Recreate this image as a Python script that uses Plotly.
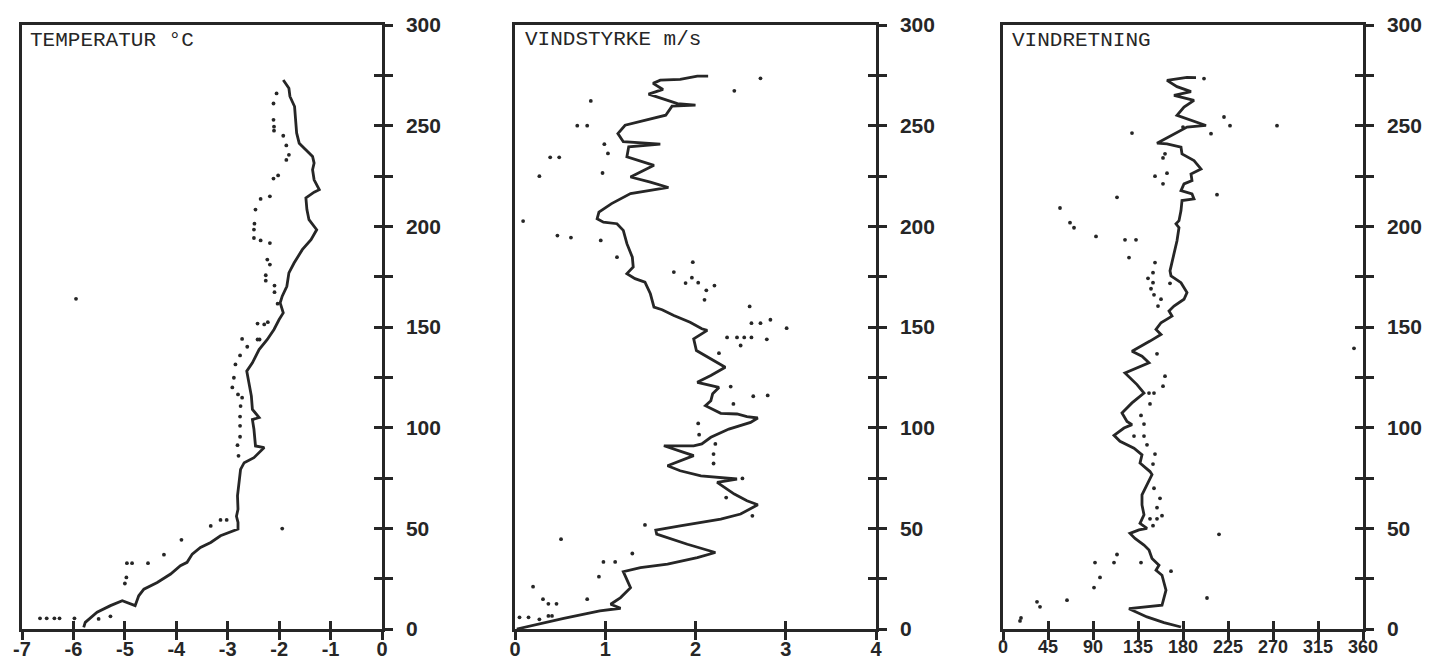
import plotly.graph_objects as go

# ---------------- DATA ----------------
height_ticks = [0, 25, 50, 75, 100, 125, 150, 175, 200, 225, 250, 275, 300]
height_ticktext = ["0", "", "50", "", "100", "", "150", "", "200", "", "250", "", "300"]

temp_ticks = [-7, -6, -5, -4, -3, -2, -1, 0]
temp_ticktext = ["-7", "-6", "-5", "-4", "-3", "-2", "-1", "0"]
speed_ticks = [0, 1, 2, 3, 4]
speed_ticktext = ["0", "1", "2", "3", "4"]
dir_ticks = [0, 45, 90, 135, 180, 225, 270, 315, 360]
dir_ticktext = ["0", "45", "90", "135", "180", "225", "270", "315", "360"]

titles = ["TEMPERATUR °C", "VINDSTYRKE m/s", "VINDRETNING"]

# Temperature profile (solid line)
temp_line_t = [-1.92, -1.81, -1.79, -1.70, -1.68, -1.66, -1.61, -1.48, -1.35, -1.32, -1.35, -1.32,
               -1.22, -1.32, -1.48, -1.46, -1.42, -1.27, -1.38, -1.55, -1.71, -1.81, -1.85, -1.94,
               -1.98, -1.92, -2.00, -2.10, -2.23, -2.39, -2.52, -2.63, -2.59, -2.54, -2.52, -2.39,
               -2.52, -2.49, -2.46, -2.29, -2.49, -2.68, -2.75, -2.78, -2.81, -2.80, -2.83, -2.80,
               -2.80, -3.14, -3.33, -3.53, -3.69, -3.79, -3.92, -4.11, -4.37, -4.63, -4.73, -4.80,
               -5.05, -5.28, -5.54, -5.77, -5.80]
temp_line_h = [272.7, 268.6, 264.5, 259.5, 252.9, 246.4, 241.3, 238.0, 234.7, 231.4, 228.1, 223.1,
               218.2, 217.0, 214.1, 208.3, 203.3, 198.3, 193.4, 188.4, 181.8, 176.9, 170.2, 165.3,
               162.0, 157.0, 153.7, 148.8, 143.8, 138.8, 132.2, 128.1, 122.3, 115.7, 109.1, 105.0,
               104.0, 99.2, 90.9, 90.1, 85.1, 82.6, 79.3, 72.7, 66.1, 59.5, 56.0, 52.9,
               49.6, 46.3, 43.0, 40.5, 37.2, 33.1, 31.4, 27.3, 23.1, 19.8, 16.5, 11.6,
               14.0, 11.6, 8.3, 3.3, 0.8]

# Temperature (dots)
temp_dot_t = [-2.05, -2.11, -2.11, -2.10, -2.10, -1.92, -1.86, -1.81, -1.86, -2.02, -2.11, -2.18,
              -2.36, -2.46, -2.48, -2.49, -2.49, -2.36, -2.18, -2.23, -2.18, -2.26, -2.26, -2.09,
              -2.09, -2.03, -2.22, -2.29, -2.42, -5.95, -2.42, -2.38, -2.72, -2.62, -2.76, -2.85,
              -2.88, -2.91, -2.80, -2.72, -2.75, -2.76, -2.76, -2.76, -2.81, -2.79, -1.94, -3.02,
              -3.14, -3.33, -3.90, -4.24, -4.55, -4.86, -4.96, -4.97, -5.00, -5.28, -5.51, -5.98,
              -6.27, -6.37, -6.52, -6.65]
temp_dot_h = [266.0, 261.0, 252.9, 249.5, 247.5, 245.0, 240.2, 235.5, 233.0, 225.3, 223.7, 214.9,
              213.6, 208.3, 201.3, 198.4, 194.2, 193.0, 191.7, 183.5, 181.0, 175.7, 173.0, 170.6,
              167.3, 161.6, 152.4, 151.3, 151.7, 164.0, 143.8, 143.8, 144.1, 140.2, 135.9, 131.4,
              124.8, 120.0, 116.5, 114.9, 110.7, 105.5, 100.9, 95.5, 91.3, 86.0, 49.9, 54.2,
              54.2, 51.2, 44.3, 36.9, 32.7, 32.7, 32.7, 25.6, 22.6, 6.3, 5.0, 5.3,
              5.3, 5.3, 5.3, 5.3]

# Wind speed profile (solid line)
speed_line_v = [2.14, 2.02, 1.83, 1.61, 1.53, 1.64, 1.48, 1.63, 1.80, 2.00, 1.74, 1.67, 1.43, 1.22,
                1.14, 1.20, 1.61, 1.26, 1.24, 1.54, 1.28, 1.50, 1.70, 1.28, 1.07, 0.93, 0.91, 0.98,
                1.13, 1.20, 1.24, 1.30, 1.31, 1.24, 1.33, 1.44, 1.50, 1.54, 1.63, 1.76, 1.94, 2.07,
                2.13, 1.98, 2.01, 2.17, 2.33, 2.17, 2.02, 2.26, 2.19, 2.17, 2.11, 2.28, 2.46, 2.57,
                2.69, 2.61, 2.37, 2.17, 2.07, 1.98, 1.65, 1.87, 1.98, 1.69, 1.83, 2.06, 2.24, 2.46,
                2.24, 2.43, 2.57, 2.69, 2.50, 2.28, 1.83, 1.56, 1.57, 1.91, 2.22, 2.02, 1.69, 1.39,
                1.20, 1.24, 1.28, 1.17, 1.06, 1.17, 0.94, 0.54, 0.24, 0.02]
speed_line_h = [274.6, 274.6, 273.0, 272.6, 271.0, 268.0, 265.7, 263.5, 261.0, 260.2, 259.7, 255.2,
                252.7, 250.2, 246.1, 242.0, 240.8, 239.5, 234.5, 230.3, 224.5, 222.0, 219.3, 216.3,
                211.3, 207.1, 203.8, 202.1, 201.3, 198.0, 191.4, 184.7, 179.8, 176.5, 174.0, 172.3,
                166.5, 159.9, 158.6, 155.7, 152.4, 149.1, 148.3, 144.1, 138.3, 134.2, 130.0, 125.9,
                122.5, 120.0, 116.8, 113.4, 110.9, 107.1, 106.8, 105.5, 104.8, 102.6, 99.3, 95.2,
                91.9, 91.0, 91.0, 87.7, 86.1, 81.1, 78.6, 76.1, 75.3, 74.5, 72.8, 67.0,
                63.7, 61.7, 57.1, 54.6, 51.2, 49.1, 47.1, 42.1, 38.0, 35.5, 32.2, 30.5,
                28.5, 24.7, 20.5, 15.6, 12.3, 10.3, 9.0, 5.3, 2.3, 0.0]

# Wind speed (dots)
speed_dot_v = [2.72, 2.43, 0.84, 0.69, 0.80, 0.99, 1.03, 0.39, 0.49, 0.97, 0.27, 0.09, 0.47, 0.62,
               0.95, 1.13, 1.97, 1.76, 1.96, 1.89, 2.03, 2.12, 2.21, 2.10, 2.60, 2.62, 2.72, 2.83,
               3.01, 2.35, 2.46, 2.54, 2.62, 2.79, 2.50, 2.26, 2.39, 2.64, 2.80, 2.42, 2.03, 2.04,
               2.22, 2.20, 2.20, 2.52, 2.34, 2.63, 1.44, 0.51, 1.30, 0.98, 1.11, 0.93, 0.20, 0.80,
               0.31, 0.37, 0.46, 0.41, 0.37, 0.27, 0.15, 0.05]
speed_dot_h = [273.5, 267.3, 262.3, 250.0, 250.0, 240.8, 236.2, 234.3, 234.3, 226.5, 224.9, 202.6,
               195.4, 194.4, 193.0, 184.7, 182.2, 177.3, 174.5, 171.8, 172.0, 168.2, 170.6, 163.5,
               160.2, 151.9, 151.9, 153.6, 149.4, 144.8, 144.8, 144.8, 144.8, 143.9, 140.8, 137.0,
               120.4, 115.6, 116.0, 111.8, 102.1, 96.5, 91.9, 86.9, 82.2, 74.8, 65.3, 56.2,
               51.7, 44.6, 37.5, 33.3, 33.3, 26.0, 21.0, 14.8, 14.8, 12.5, 12.5, 6.5,
               6.5, 4.8, 5.8, 5.8]

# Wind direction profile (solid line)
dir_line_d = [193, 184, 164, 174, 188, 171, 191, 181, 174, 188, 203, 184, 171, 154, 164, 178,
              179, 191, 198, 188, 189, 181, 178, 189, 191, 179, 178, 176, 173, 176, 174, 171,
              167, 168, 178, 184, 181, 171, 166, 169, 158, 153, 158, 147, 129, 139, 146, 122,
              134, 141, 129, 119, 124, 129, 121, 111, 117, 131, 139, 137, 147, 149, 144, 139,
              139, 141, 137, 144, 136, 127, 132, 141, 146, 149, 156, 153, 159, 163, 159, 144,
              126, 144, 161, 178]
dir_line_h = [273.9, 274.0, 272.5, 269.4, 266.9, 265.0, 262.6, 259.2, 255.1, 252.6, 250.1, 249.3,
              246.0, 241.3, 241.0, 239.3, 236.0, 232.7, 228.5, 226.0, 222.7, 221.1, 217.7, 216.1,
              213.6, 212.8, 207.8, 202.8, 201.2, 199.4, 192.8, 186.2, 177.9, 175.4, 172.0, 167.1,
              163.8, 160.4, 157.9, 155.4, 152.1, 148.8, 146.3, 143.0, 138.0, 135.5, 132.2, 127.2,
              121.4, 117.2, 112.3, 107.3, 103.1, 101.5, 99.8, 96.2, 93.2, 89.8, 86.5, 82.4,
              78.2, 76.7, 71.6, 66.6, 61.6, 56.7, 52.5, 50.0, 49.2, 47.5, 45.0, 41.7,
              39.2, 35.0, 31.7, 29.2, 26.7, 19.3, 11.8, 11.0, 10.1, 6.0, 3.2, 1.0]

# Wind direction (dots)
dir_dot_d = [201, 221, 227, 274, 180, 208, 129, 162, 160, 164, 152, 160, 214, 114, 57, 67,
             71, 93, 122, 133, 126, 152, 150, 145, 150, 148, 151, 167, 158, 155, 351, 154,
             162, 160, 146, 151, 147, 138, 141, 131, 141, 144, 152, 150, 151, 157, 154, 159,
             154, 147, 150, 216, 114, 111, 138, 92, 168, 97, 91, 204, 64, 34, 37, 18, 17]
dir_dot_h = [273.4, 254.3, 250.0, 250.0, 249.3, 246.0, 246.3, 236.0, 234.0, 226.4, 224.9, 221.1,
             215.7, 214.4, 209.1, 201.8, 199.3, 195.0, 193.3, 193.3, 184.5, 182.0, 177.0, 174.2,
             172.0, 169.0, 166.0, 171.7, 163.8, 160.4, 139.4, 136.7, 125.6, 120.6, 117.2, 117.2,
             111.8, 106.1, 101.8, 95.8, 95.8, 91.5, 86.9, 81.9, 69.9, 64.9, 60.3, 56.3,
             54.7, 54.7, 51.3, 47.0, 37.0, 33.0, 33.0, 33.0, 28.7, 25.6, 20.6, 15.4,
             14.3, 13.5, 11.0, 5.5, 4.0]

# ---------------- FIGURE ----------------
W, H = 1441, 662
INK = "#262626"
TICKFONT = dict(family="Liberation Sans, Arial, sans-serif", size=21, color=INK)

panels = [
    dict(x=temp_line_t, h=temp_line_h, dx=temp_dot_t, dh=temp_dot_h, rng=[-7, 0],
         tv=temp_ticks, tt=temp_ticktext, px=(22, 382), fs=20, tx=28, ty=41),
    dict(x=speed_line_v, h=speed_line_h, dx=speed_dot_v, dh=speed_dot_h, rng=[0, 4],
         tv=speed_ticks, tt=speed_ticktext, px=(515, 876), fs=20, tx=523, ty=39),
    dict(x=dir_line_d, h=dir_line_h, dx=dir_dot_d, dh=dir_dot_h, rng=[0, 360],
         tv=dir_ticks, tt=dir_ticktext, px=(1003, 1363), fs=18, tx=1010, ty=40),
]

ydom = [1 - 629 / H, 1 - 25 / H]
fig = go.Figure()
layout = {}
annotations = []

for i, p in enumerate(panels):
    m = 2 * i + 1      # main axes index
    o = 2 * i + 2      # overlay axes index (inside ticks)
    xm = "x" if m == 1 else f"x{m}"
    ym = "y" if m == 1 else f"y{m}"
    xo, yo = f"x{o}", f"y{o}"
    xdom = [p["px"][0] / W, p["px"][1] / W]

    fig.add_trace(go.Scatter(x=p["x"], y=p["h"], mode="lines", xaxis=xm, yaxis=ym,
                             line=dict(color=INK, width=2.8), showlegend=False,
                             hoverinfo="skip"))
    fig.add_trace(go.Scatter(x=p["dx"], y=p["dh"], mode="markers", xaxis=xo, yaxis=yo,
                             marker=dict(color=INK, size=3.8), showlegend=False,
                             hoverinfo="skip"))

    xfont = dict(TICKFONT, size=p["fs"])
    layout["xaxis" if m == 1 else f"xaxis{m}"] = dict(
        domain=xdom, anchor=ym, range=p["rng"], tickmode="array", tickvals=p["tv"],
        ticktext=[f"<b>{t}</b>" for t in p["tt"]], ticks="outside", ticklen=8, tickwidth=2.5,
        tickcolor=INK, showline=True, linecolor=INK, linewidth=2.5, mirror=True,
        showgrid=False, zeroline=False, tickfont=xfont, ticklabelstandoff=-8,
        automargin=False, fixedrange=True)
    layout["yaxis" if m == 1 else f"yaxis{m}"] = dict(
        domain=ydom, anchor=xm, side="right", range=[0, 300], tickmode="array",
        tickvals=height_ticks, ticktext=[f"<b>{t}</b>" if t else "" for t in height_ticktext],
        ticks="outside", ticklen=8, tickwidth=2.5, tickcolor=INK, showline=True,
        linecolor=INK, linewidth=2.5, mirror=True, showgrid=False, zeroline=False,
        tickfont=TICKFONT, ticklabelstandoff=9, automargin=False, fixedrange=True)
    layout[f"xaxis{o}"] = dict(
        overlaying=xm, anchor=yo, side="bottom", range=p["rng"], tickmode="array",
        tickvals=p["tv"], ticks="inside", ticklen=8, tickwidth=2.5, tickcolor=INK,
        showticklabels=False, showline=False, showgrid=False, zeroline=False,
        automargin=False, fixedrange=True)
    layout[f"yaxis{o}"] = dict(
        overlaying=ym, anchor=xo, side="right", range=[0, 300], tickmode="array",
        tickvals=height_ticks, ticks="inside", ticklen=8, tickwidth=2.5, tickcolor=INK,
        showticklabels=False, showline=False, showgrid=False, zeroline=False,
        automargin=False, fixedrange=True)

    annotations.append(dict(text=titles[i], xref="paper", yref="paper",
                            x=p["tx"] / W, y=1 - p["ty"] / H, xanchor="left",
                            yanchor="middle", showarrow=False,
                            font=dict(family="Liberation Mono, Courier New, monospace",
                                      size=21, color=INK)))

fig.update_layout(width=W, height=H, margin=dict(l=0, r=0, t=0, b=0, autoexpand=False),
                  paper_bgcolor="white", plot_bgcolor="white",
                  annotations=annotations, **layout)

fig.write_html("out.html", config={"displayModeBar": False},
               post_script="document.body.style.margin='0';document.body.style.overflow='hidden';")
